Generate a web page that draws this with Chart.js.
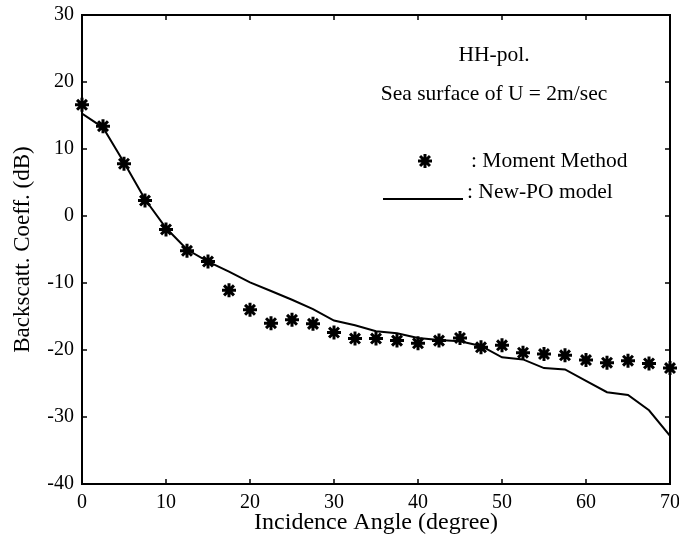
<!DOCTYPE html>
<html>
<head>
<meta charset="utf-8">
<script src="https://cdn.jsdelivr.net/npm/chart.js@4.4.1/dist/chart.umd.min.js"></script>
<style>
  body { margin: 0; background: #fff; }
  #wrap { width: 679px; height: 547px; }
</style>
</head>
<body>
<div id="wrap"><canvas id="chart" width="679" height="547"></canvas></div>
<script>
// incidence angles (degree)
const angles = [0, 2.5, 5, 7.5, 10, 12.5, 15, 17.5, 20, 22.5, 25, 27.5, 30, 32.5, 35,
  37.5, 40, 42.5, 45, 47.5, 50, 52.5, 55, 57.5, 60, 62.5, 65, 67.5, 70];

// moment method (dB)
const momentVals = [16.6, 13.4, 7.8, 2.3, -2.0, -5.2, -6.8, -11.1, -14.0, -16.0, -15.5, -16.1, -17.4, -18.3, -18.3,
  -18.6, -19.0, -18.6, -18.2, -19.6, -19.3, -20.4, -20.6, -20.8, -21.5, -21.9, -21.6, -22.0, -22.7];

// new-PO model (dB)
const poVals = [15.3, 13.2, 8.0, 2.5, -1.8, -5.0, -6.8, -8.3, -9.9, -11.2, -12.5, -13.9, -15.6, -16.3, -17.2,
  -17.5, -18.2, -18.5, -18.7, -19.4, -21.1, -21.4, -22.7, -22.9, -24.6, -26.3, -26.7, -29.0, -32.8];

const xTicks = [0, 10, 20, 30, 40, 50, 60, 70];
const yTicks = [-40, -30, -20, -10, 0, 10, 20, 30];

const FONT = "'Liberation Serif', 'Times New Roman', serif";

function drawStar(ctx, x, y, r) {
  ctx.beginPath();
  for (let k = 0; k < 4; k++) {
    const a = k * Math.PI / 4;
    ctx.moveTo(x - r * Math.cos(a), y - r * Math.sin(a));
    ctx.lineTo(x + r * Math.cos(a), y + r * Math.sin(a));
  }
  ctx.stroke();
}

// frame, inward ticks, notes and legend
const extras = {
  id: 'extras',
  afterDraw(chart) {
    const ctx = chart.ctx;
    const a = chart.chartArea;
    const xs = chart.scales.x, ys = chart.scales.y;
    ctx.save();
    ctx.strokeStyle = '#000';
    ctx.lineWidth = 2;
    ctx.strokeRect(a.left, a.top, a.right - a.left, a.bottom - a.top);

    ctx.lineWidth = 1.5;
    ctx.beginPath();
    xTicks.forEach(v => {
      const px = xs.getPixelForValue(v);
      ctx.moveTo(px, a.bottom); ctx.lineTo(px, a.bottom - 5);
      ctx.moveTo(px, a.top); ctx.lineTo(px, a.top + 5);
    });
    yTicks.forEach(v => {
      const py = ys.getPixelForValue(v);
      ctx.moveTo(a.left, py); ctx.lineTo(a.left + 5, py);
      ctx.moveTo(a.right, py); ctx.lineTo(a.right - 5, py);
    });
    ctx.stroke();

    ctx.fillStyle = '#000';
    ctx.font = '21.5px ' + FONT;
    ctx.textAlign = 'center';
    ctx.textBaseline = 'alphabetic';
    ctx.fillText('HH-pol.', 494, 61);
    ctx.fillText('Sea surface of U = 2m/sec', 494, 100);

    ctx.textAlign = 'left';
    ctx.fillText(': Moment Method', 471, 167);
    ctx.fillText(': New-PO model', 467, 198);

    ctx.lineWidth = 3;
    drawStar(ctx, 425, 161, 7);
    ctx.lineWidth = 2;
    ctx.beginPath();
    ctx.moveTo(383, 199);
    ctx.lineTo(463, 199);
    ctx.stroke();
    ctx.restore();
  }
};

new Chart(document.getElementById('chart'), {
  type: 'scatter',
  data: {
    datasets: [
      {
        label: 'Moment Method',
        data: angles.map((x, i) => ({ x: x, y: momentVals[i] })),
        showLine: false,
        clip: false,
        pointStyle: 'star',
        pointRadius: 7,
        pointBorderWidth: 3,
        borderColor: '#000',
        backgroundColor: '#000'
      },
      {
        label: 'New-PO model',
        data: angles.map((x, i) => ({ x: x, y: poVals[i] })),
        showLine: true,
        pointRadius: 0,
        borderColor: '#000',
        borderWidth: 2,
        tension: 0
      }
    ]
  },
  options: {
    responsive: false,
    animation: false,
    layout: { autoPadding: false, padding: { top: 15, right: 9, left: 0, bottom: 0 } },
    plugins: { legend: { display: false }, tooltip: { enabled: false } },
    scales: {
      x: {
        type: 'linear',
        min: 0, max: 70,
        afterFit: s => { s.height = 63; s.paddingLeft = 0; s.paddingRight = 0; },
        afterBuildTicks: s => { s.ticks = xTicks.map(v => ({ value: v })); },
        grid: { display: false, drawTicks: false },
        border: { display: false },
        ticks: { color: '#000', padding: 7, maxRotation: 0, font: { family: FONT, size: 20 } },
        title: {
          display: true, text: 'Incidence Angle (degree)', color: '#000',
          font: { family: FONT, size: 24 }, padding: { top: 0, bottom: 10 }
        }
      },
      y: {
        type: 'linear',
        min: -40, max: 30,
        afterFit: s => { s.width = 82; s.paddingTop = 0; s.paddingBottom = 0; },
        afterBuildTicks: s => { s.ticks = yTicks.map(v => ({ value: v })); },
        grid: { display: false, drawTicks: false },
        border: { display: false },
        ticks: { color: '#000', padding: 8, font: { family: FONT, size: 20 } },
        title: {
          display: true, text: 'Backscatt. Coeff. (dB)', color: '#000',
          font: { family: FONT, size: 23 }, padding: { top: 9, bottom: 0 }
        }
      }
    }
  },
  plugins: [extras]
});
</script>
</body>
</html>
